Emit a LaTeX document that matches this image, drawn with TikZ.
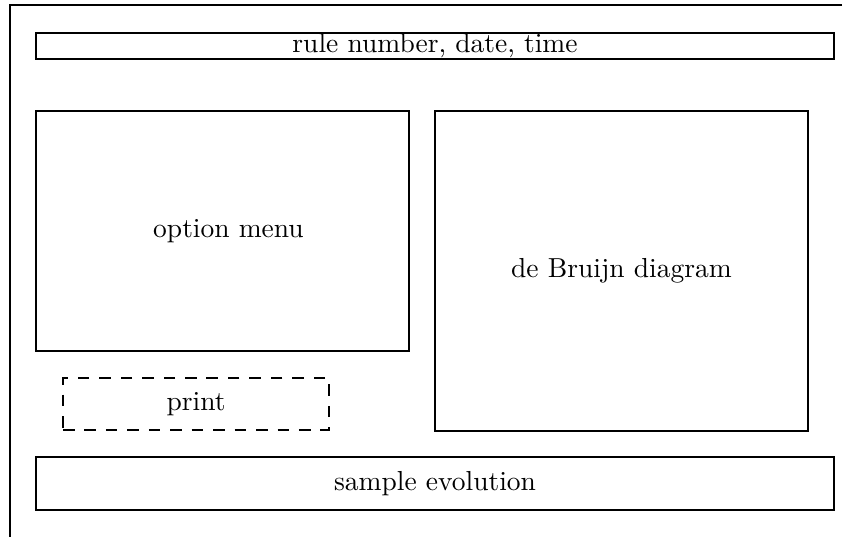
\documentclass[tikz,border=0pt]{standalone}
% one drawing unit = one pixel of the layout grid
\newdimen\pxunit
\pxunit=0.3636pt
\tikzset{
  frame/.style={line width=0.95pt, line join=miter},
  panel/.style 2 args={draw, line width=0.95pt, inner sep=0pt,
    minimum width=#1*\pxunit, minimum height=#2*\pxunit},
  dashpanel/.style 2 args={panel={#1}{#2}, dash pattern=on 4.2pt off 3.6pt}
}
\begin{document}
\begin{tikzpicture}[x=\pxunit, y=-\pxunit]
  \useasboundingbox (0,0) rectangle (852,537);
  % outer frame: top edge and left edge only
  \coordinate (tl) at (10,5);
  \coordinate (tr) at (842,5);
  \coordinate (bl) at (10,537);
  \draw[frame] (tr) -- (tl) -- (bl);
  % panels
  \node[panel={798}{26}] (header) at (435,46) {rule number, date, time};
  \node[panel={373}{240}] (menu) at (222.5,231) {\hspace*{12\pxunit}option menu};
  \node[panel={373}{320}] (debruijn) at (621.5,271) {de Bruijn diagram};
  \node[dashpanel={266}{52}] (print) at (196,404) {print};
  \node[panel={798}{53}] (evolution) at (435,483.5) {sample evolution};
\end{tikzpicture}
\end{document}
